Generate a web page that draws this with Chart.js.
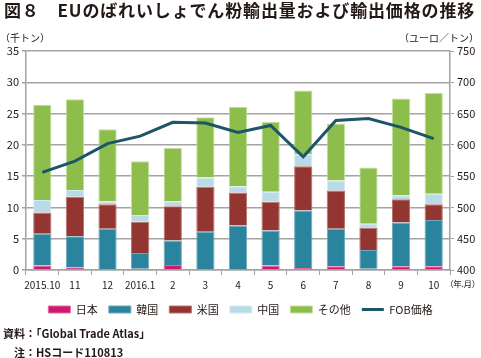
<!doctype html>
<html>
<head>
<meta charset="utf-8">
<script src="https://cdn.jsdelivr.net/npm/chart.js@4.4.1/dist/chart.umd.min.js"></script>
<style>
  body { margin: 0; background: #fff; font-family: "Noto Sans CJK JP", "Noto Sans", sans-serif; color: #231815; }
  #wrap { position: relative; width: 481px; height: 358px; overflow: hidden; }
  #chart { position: absolute; left: 0; top: 0; }
  .t { position: absolute; white-space: nowrap; }
  #title { left: 4px; top: -3px; font-size: 17px; font-weight: bold; letter-spacing: 0.85px; }
  #unitL { left: 0px; top: 30px; font-size: 10px; }
  #unitR { right: 2px; top: 30px; font-size: 10px; }
  #unitX { right: 1px; top: 277px; font-size: 8.5px; letter-spacing: -0.3px; }
  #src { left: 3px; top: 325px; font-size: 11px; font-weight: bold; }
  #note { left: 14px; top: 344px; font-size: 11px; font-weight: bold; }
</style>
</head>
<body>
<div id="wrap">
  <canvas id="chart" width="481" height="358"></canvas>
  <div class="t" id="title">図８　EUのばれいしょでん粉輸出量および輸出価格の推移</div>
  <div class="t" id="unitL">（千トン）</div>
  <div class="t" id="unitR">（ユーロ／トン）</div>
  <div class="t" id="unitX">（年.月）</div>
  <div class="t" id="src">資料：「Global Trade Atlas」</div>
  <div class="t" id="note">注：HSコード110813</div>
</div>
<script>
  // months
  const labels = ['2015.10', '11', '12', '2016.1', '2', '3', '4', '5', '6', '7', '8', '9', '10'];

  // export volume by destination (thousand tons)
  const japan = [0.7, 0.4, 0.0, 0.2, 0.8, 0.0, 0.0, 0.7, 0.3, 0.6, 0.2, 0.6, 0.6];
  const korea = [5.1, 5.0, 6.6, 2.5, 3.9, 6.1, 7.1, 5.6, 9.2, 6.0, 3.0, 7.0, 7.4];
  const usa = [3.4, 6.3, 3.9, 5.0, 5.5, 7.2, 5.3, 4.6, 7.1, 6.1, 3.6, 3.7, 2.5];
  const china = [2.0, 1.1, 0.5, 1.1, 0.8, 1.5, 1.0, 1.6, 1.9, 1.6, 0.6, 0.6, 1.7];
  const others = [15.2, 14.5, 11.5, 8.6, 8.5, 9.6, 12.7, 11.2, 10.2, 9.1, 9.0, 15.5, 16.1];

  // FOB price (euro/ton)
  const fob = [556, 574, 602, 614, 636, 635, 620, 631, 581, 639, 642, 628, 610];

  const gridColor = '#a3a3a3';
  const txt = '#231815';
  const font = { family: '"Noto Sans CJK JP", "Noto Sans", sans-serif', size: 10 };

  function bar(label, data, color, edge) {
    return {
      type: 'bar', label: label, data: data,
      backgroundColor: color, borderColor: edge, borderWidth: 1,
      yAxisID: 'y', stack: 'vol', order: 1,
      categoryPercentage: 1, barPercentage: 0.56, pointStyle: 'rect'
    };
  }

  const config = {
    data: {
      labels: labels,
      datasets: [
        bar('日本', japan, '#cf1870', '#e06a9e'),
        bar('韓国', korea, '#2b849e', '#6aa9bc'),
        bar('米国', usa, '#933632', '#b8706b'),
        bar('中国', china, '#b9dbe8', '#d6eaf1'),
        bar('その他', others, '#8dbd4b', '#c3df9c'),
        {
          type: 'line', label: 'FOB価格', data: fob,
          borderColor: '#1d5569', backgroundColor: '#1d5569', borderWidth: 3,
          pointRadius: 0, tension: 0, yAxisID: 'y1', order: -1, pointStyle: 'line'
        }
      ]
    },
    options: {
      responsive: false,
      animation: false,
      layout: { padding: { top: 51, left: 0, right: 0, bottom: 33 } },
      plugins: {
        title: { display: false },
        tooltip: { enabled: false },
        legend: {
          position: 'bottom',
          labels: {
            usePointStyle: true, pointStyleWidth: 22, boxHeight: 7,
            color: txt, font: { family: font.family, size: 11 }, padding: 11,
            sort: (a, b) => a.datasetIndex - b.datasetIndex
          }
        }
      },
      scales: {
        x: {
          stacked: true,
          grid: { display: true, drawOnChartArea: false, offset: true, tickLength: 5, color: gridColor, lineWidth: 1 },
          border: { color: gridColor, width: 1.5 },
          ticks: { color: txt, font: font, maxRotation: 0, autoSkip: false, padding: 4 },
          afterFit: s => { s.height = 23; }
        },
        y: {
          stacked: true, position: 'left', min: 0, max: 35,
          ticks: { stepSize: 5, color: txt, font: { family: font.family, size: 11 }, padding: 3 },
          grid: { color: gridColor, lineWidth: 1.5, tickLength: 4 },
          border: { color: gridColor, width: 1.5 },
          afterFit: s => { s.width = 26; }
        },
        y1: {
          position: 'right', min: 400, max: 750,
          ticks: { stepSize: 50, color: txt, font: { family: font.family, size: 11 }, padding: 3 },
          grid: { drawOnChartArea: false, color: gridColor, tickLength: 4 },
          border: { color: gridColor, width: 1.5 },
          afterFit: s => { s.width = 31; }
        }
      }
    }
  };

  new Chart(document.getElementById('chart').getContext('2d'), config);
</script>
</body>
</html>
